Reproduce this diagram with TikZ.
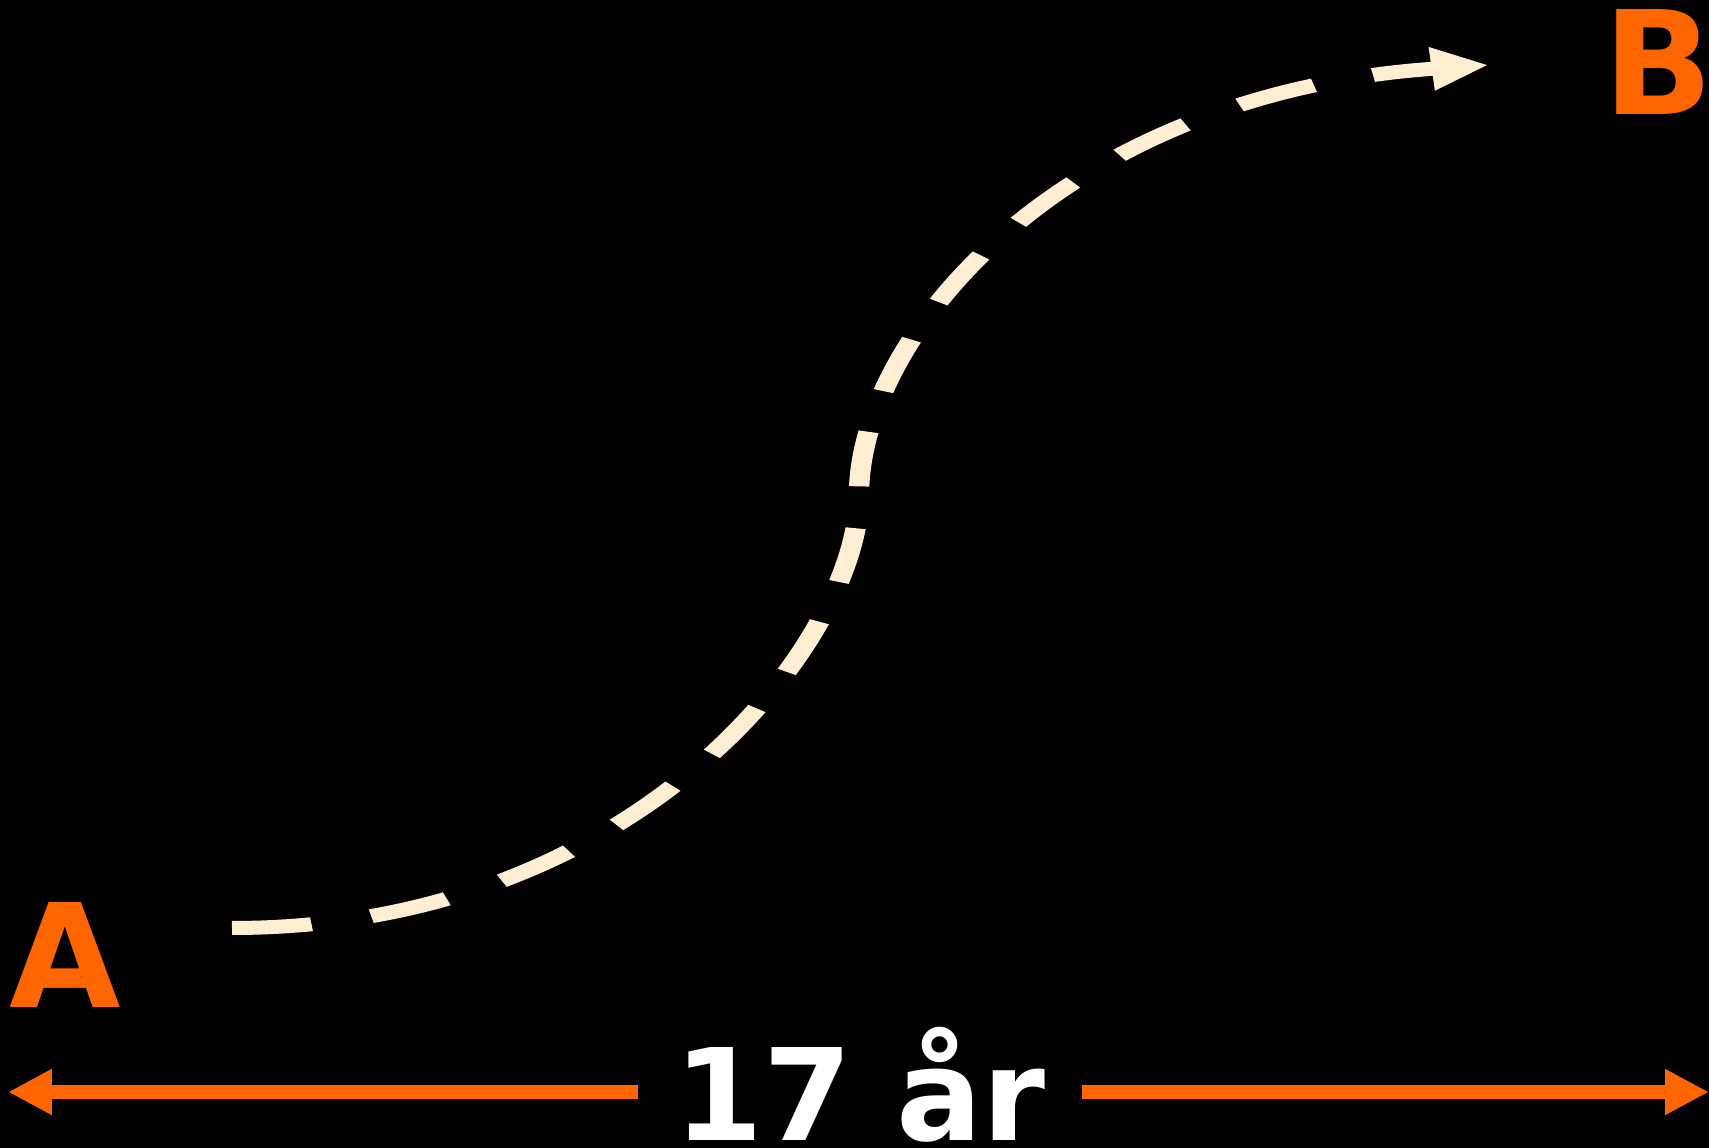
\documentclass[tikz,border=0pt]{standalone}
\usepackage{fontspec}
\setmainfont{DejaVu Sans}
\usetikzlibrary{arrows.meta,positioning,calc}
\definecolor{flame}{RGB}{255,102,0}
\definecolor{cream}{RGB}{255,238,210}
\definecolor{night}{RGB}{0,0,0}
\tikzset{
  endpoint/.style={text=flame,font=\fontsize{41}{41}\selectfont\bfseries,inner sep=0pt,anchor=base west},
  span/.style={draw=flame,line width=1.4mm,-{Triangle[length=4.4mm,width=4.3mm]}},
  route/.style={draw=cream,line width=1.4mm,dash pattern=on 5.5mm off 4.2mm,
    -{Triangle[length=3.9mm,width=4.1mm]}},
  years/.style={text=white,font=\fontsize{36.3}{36.3}\selectfont\bfseries,inner xsep=3.6mm,inner ysep=0pt,anchor=base},
}
\begin{document}
\begin{tikzpicture}[x=0.1mm,y=-0.1mm]
    \fill[night] (0,0) rectangle (1709,1148);
    \useasboundingbox (0,0) rectangle (1709,1148);
    \node[endpoint] (a) at (9,1007) {A};
    \node[endpoint] (b) at (1603,115) {B};
    \node[years] (yr) at (860,1140) {17 år};
    \coordinate (lt) at (8,1092);
    \coordinate (rt) at (1709,1092);
    % time span
    \draw[span] (yr.west |- lt) -- (lt);
    \draw[span] (yr.east |- rt) -- (rt);
    % the road from A to B, stretched sideways
    \begin{scope}[transform canvas={xscale=1.45}]
      \coordinate (start) at (160,928);
      \coordinate (mid) at (592.4,495);
      \coordinate (stop) at (1026.2,65);
      \draw[route] (start) .. controls (440.7,928) and (592.4,640) .. (mid)
        .. controls (592.4,336) and (732.4,94) .. (stop);
    \end{scope}
  \end{tikzpicture}
\end{document}
